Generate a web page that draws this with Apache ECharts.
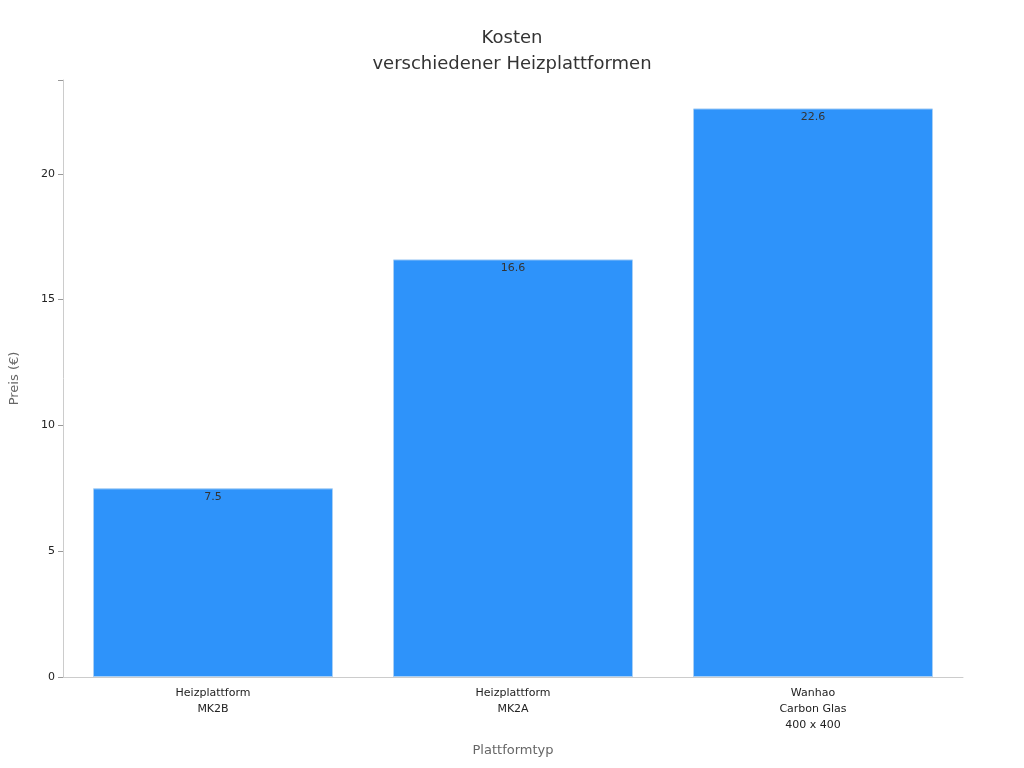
<!DOCTYPE html>
<html><head><meta charset="utf-8">
<script src="https://cdn.jsdelivr.net/npm/echarts@6/dist/echarts.min.js"></script>
<style>html,body{margin:0;padding:0}#c{width:1024px;height:768px}</style>
</head><body><div id="c"></div>
<script>
const categories = ["Heizplattform\nMK2B", "Heizplattform\nMK2A", "Wanhao\nCarbon Glas\n400 x 400"];
const values = [7.5, 16.6, 22.6];
const chart = echarts.init(document.getElementById('c'));
chart.setOption({
  textStyle: {fontFamily: 'DejaVu Sans'},
  title: {text: 'Kosten\nverschiedener Heizplattformen', left: 'center', top: 20,
    textStyle: {fontSize: 18, fontWeight: 'normal', color: '#333', lineHeight: 26, fontFamily: 'DejaVu Sans'}},
  grid: {left: 61, right: 61, top: 80, bottom: 91},
  xAxis: {type: 'category', data: categories, name: 'Plattformtyp', nameLocation: 'middle', nameGap: 67,
    nameTextStyle: {color: '#666', fontSize: 13},
    axisLine: {lineStyle: {color: '#ccc'}}, axisTick: {alignWithLabel: true, lineStyle: {color: '#999'}},
    axisLabel: {color: '#222', fontSize: 11, lineHeight: 16}},
  yAxis: {type: 'value', min: 0, max: 23.73, interval: 5, name: 'Preis (€)', nameLocation: 'middle', nameGap: 42,
    nameTextStyle: {color: '#666', fontSize: 13},
    axisLine: {show: true, lineStyle: {color: '#ccc'}}, axisTick: {show: true, lineStyle: {color: '#999'}},
    splitLine: {show: false},
    axisLabel: {color: '#222', fontSize: 11, formatter: v => (v % 5 === 0 ? v : '')}},
  series: [{type: 'bar', data: values, barWidth: '80%',
    itemStyle: {color: '#2E93FA', borderColor: '#a8cff5', borderWidth: 1},
    label: {show: true, position: 'insideTop', color: '#333', fontSize: 11, offset: [0, -2]}}]
});
</script></body></html>
